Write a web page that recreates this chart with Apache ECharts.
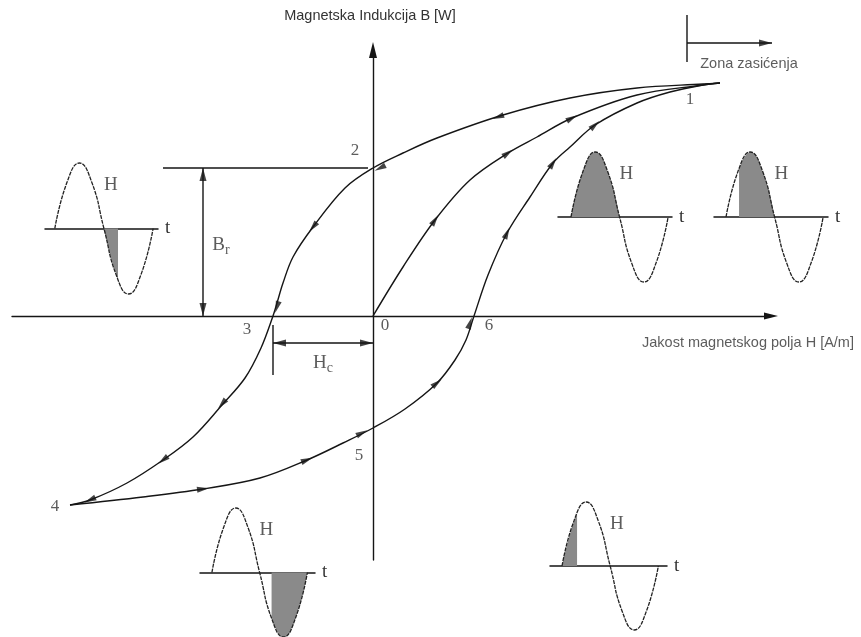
<!DOCTYPE html>
<html><head><meta charset="utf-8">
<script src="https://cdn.jsdelivr.net/npm/echarts@6/dist/echarts.min.js"></script>
<style>html,body{margin:0;padding:0;background:#fff}#c{width:861px;height:637px}</style>
</head><body><div id="c"></div>
<script>
// ---------------- data (H, B in arbitrary units, origin at 0,0) ----------------
const initialCurve = [[0,0],[30,49],[62,96],[97,136],[135,163],[164,179],[199,198],[264,221],[330,231],[347,233]];
const upperBranch = [[347,233],[330,232],[264,228],[197,218],[130,201],[64,178],[30,163],[0,148],[-28,128],[-60,89],[-80,59],[-90,33],[-96,13],[-100,0],[-112,-32],[-128,-62],[-151,-89],[-180,-121],[-210,-144],[-246,-167],[-283,-184],[-303,-189]];
const lowerBranch = [[-303,-189],[-230,-181],[-170,-173],[-113,-162],[-66,-144],[-30,-127],[0,-112],[32,-93],[64,-67],[82,-44],[93,-24],[101,0],[115,41],[134,83],[157,119],[180,153],[197,169],[222,191],[264,213],[297,224],[330,231],[347,233]];

const initialArrows = [[62,96],[135,163],[199,198]];
const upperArrows = [[125,199],[7,148],[-60,89],[-96,9],[-151,-88],[-210,-144],[-283,-184]];
const lowerArrows = [[-170,-173],[-66,-144],[-11,-117],[64,-67],[97,-7],[134,83],[180,153],[222,191]];

const keyPoints = [['1',347,233],['2',0,148],['3',-100,0],['4',-303,-189],['5',0,-112],['6',101,0],['0',0,0]];

const remanence = 148;          // B_r
const coercivity = -100;        // -H_c
const brLineH = [-210, -5];     // extent of B_r reference line
const brArrowH = -170;
const hcTickB = [-9, -59];
const hcArrowB = -27;
const zoneStartH = 314;
const zoneMarkerB = [254, 301];
const zoneArrow = [[314,273],[399,273]];

// sine insets (t as fraction of period, H normalised)
const sineWave = [[0,0],[0.125,0.71],[0.25,1],[0.375,0.71],[0.5,0],[0.625,-0.71],[0.75,-1],[0.875,-0.71],[1,0]];
const shadeA = [[0.5,0],[0.57,-0.43],[0.643,-0.78]];
const shadeB = [[0,0],[0.125,0.71],[0.25,1],[0.375,0.71],[0.5,0]];
const shadeC = [[0.134,0.74],[0.25,1],[0.375,0.71],[0.5,0]];
const shadeD = [[0.625,-0.71],[0.75,-1],[0.875,-0.71],[1,0]];
const shadeE = [[0,0],[0.08,0.48],[0.156,0.83]];

const axisNameB = 'Magnetska Indukcija B [W]';
const axisNameH = 'Jakost magnetskog polja H [A/m]';
const zoneText = 'Zona zasićenja';

// ---------------- layout / style ----------------
const INK = '#151515';
const SERIF = '"Liberation Serif", "DejaVu Serif", serif';
const SANS = '"Liberation Sans", Arial, sans-serif';
const SANS_SIZE = 14.5;
const labelOffsets = {'1':[-30,17],'2':[-18,-17],'3':[-26,14],'0':[12,10],'6':[15,10],'5':[-14,28],'4':[-15,2]};

const insets = [
  {left:45,  top:163, width:113, height:131, min:-0.10,  max:1.05, shade:shadeA},
  {left:558, top:152, width:114, height:130, min:-0.134, max:1.04, shade:shadeB},
  {left:714, top:152, width:114, height:130, min:-0.124, max:1.05, shade:shadeC},
  {left:200, top:508, width:115, height:130, min:-0.125, max:1.08, shade:shadeD},
  {left:550, top:502, width:117, height:128, min:-0.125, max:1.09, shade:shadeE}
];

const X_MAX = 398;
const grids = [{left:12, top:50, right:90, bottom:77}];
const xAxes = [{
  type:'value', min:-361, max:X_MAX, gridIndex:0,
  axisLine:{show:true, onZero:true, symbol:['none','triangle'], symbolSize:[7,14], lineStyle:{color:INK, width:1.4}},
  axisTick:{show:false}, axisLabel:{show:false}, splitLine:{show:false}
}];
const yAxes = [{
  type:'value', min:-244, max:266, gridIndex:0,
  axisLine:{show:true, onZero:true, symbol:['none','triangle'], symbolSize:[8,16], lineStyle:{color:INK, width:1.4}},
  axisTick:{show:false}, axisLabel:{show:false}, splitLine:{show:false},
  name: axisNameB, nameLocation:'end', nameGap:27,
  nameTextStyle:{fontFamily:SANS, fontSize:SANS_SIZE, color:'#333', padding:[0,6,0,0]}
}];

insets.forEach((g, i) => {
  grids.push({left:g.left, top:g.top, width:g.width, height:g.height});
  xAxes.push({type:'value', gridIndex:i+1, min:g.min, max:g.max,
    axisLine:{show:true, onZero:true, lineStyle:{color:INK, width:1.5}},
    axisTick:{show:false}, axisLabel:{show:false}, splitLine:{show:false},
    name:'t', nameLocation:'end', nameGap:7,
    nameTextStyle:{fontFamily:SERIF, fontSize:19, color:'#333', verticalAlign:'middle'}});
  yAxes.push({type:'value', gridIndex:i+1, min:-1, max:1, show:false});
});

const curveStyle = {color:INK, width:1.4};
const series = [];
function addLine(data, extra) {
  series.push(Object.assign({type:'line', data, xAxisIndex:0, yAxisIndex:0, symbol:'none',
    clip:false, silent:true, lineStyle:{color:INK, width:1.4}, z:3}, extra || {}));
}
addLine(initialCurve, {smooth:0.35, lineStyle:curveStyle});
addLine(upperBranch, {smooth:0.35, lineStyle:curveStyle});
addLine(lowerBranch, {smooth:0.35, lineStyle:curveStyle});
addLine([[brLineH[0], remanence],[brLineH[1], remanence]]);
addLine([[brArrowH, 0],[brArrowH, remanence]]);
addLine([[coercivity, hcTickB[0]],[coercivity, hcTickB[1]]]);
addLine([[coercivity, hcArrowB],[0, hcArrowB]]);
addLine([[zoneStartH, zoneMarkerB[0]],[zoneStartH, zoneMarkerB[1]]]);
addLine(zoneArrow);

// labels
const labelData = keyPoints.map(k => ({value:[k[1], k[2]], name:k[0],
  label:{offset:labelOffsets[k[0]]}}));
labelData.push({value:[brArrowH, remanence/2], name:'Br', label:{offset:[18,3], formatter:'{a|B}{b|r}'}});
labelData.push({value:[coercivity/2, hcArrowB], name:'Hc', label:{offset:[0,20], formatter:'{a|H}{b|c}'}});
labelData.push({value:[zoneStartH, zoneMarkerB[0]], name:zoneText,
  label:{offset:[62,2], fontFamily:SANS, fontSize:SANS_SIZE, color:'#333'}});
labelData.push({value:[X_MAX, 0], name:axisNameH,
  label:{offset:[-23,27], fontFamily:SANS, fontSize:SANS_SIZE, color:'#333'}});
series.push({type:'scatter', xAxisIndex:0, yAxisIndex:0, data:labelData, symbolSize:0, clip:false, silent:true, z:5,
  label:{show:true, position:'inside', formatter:'{b}', fontFamily:SERIF, fontSize:17, color:'#333',
    rich:{a:{fontFamily:SERIF, fontSize:19, color:'#333'}, b:{fontFamily:SERIF, fontSize:14, color:'#333', padding:[10,0,0,0]}}}});

insets.forEach((g, i) => {
  series.push({type:'line', xAxisIndex:i+1, yAxisIndex:i+1, data:g.shade, smooth:true, symbol:'none',
    lineStyle:{width:0}, areaStyle:{color:'#8a8a8a', opacity:1}, silent:true, z:2});
  series.push({type:'line', xAxisIndex:i+1, yAxisIndex:i+1, data:sineWave, smooth:true, symbol:'none',
    lineStyle:{color:'#222', width:1.3, type:[4,1]}, silent:true, z:3, clip:false});
  series.push({type:'scatter', xAxisIndex:i+1, yAxisIndex:i+1, data:[{value:[0.57,0.66], name:'H'}], symbolSize:0,
    silent:true, clip:false, label:{show:true, position:'inside', formatter:'{b}', fontFamily:SERIF, fontSize:19, color:'#333'}});
});

const chart = echarts.init(document.getElementById('c'), null, {renderer:'canvas'});
const option = {animation:false, backgroundColor:'#fff', grid:grids, xAxis:xAxes, yAxis:yAxes, series};
chart.setOption(option);

// ---- arrowheads: direction taken from the curves through the axes' scales ----
const toPx = p => chart.convertToPixel({gridIndex:0}, p);
const fromPx = p => chart.convertFromPixel({gridIndex:0}, p);
const rot = (dx, dy) => Math.atan2(-dy, dx) * 180 / Math.PI - 90;
function curveArrows(curve, arrows) {
  const px = curve.map(toPx);
  return arrows.map(a => {
    const q = toPx(a);
    let best = null, bd = Infinity;
    for (let i = 0; i < px.length - 1; i++) {
      const [x1,y1] = px[i], [x2,y2] = px[i+1];
      const dx = x2-x1, dy = y2-y1, L2 = dx*dx+dy*dy || 1;
      let t = ((q[0]-x1)*dx + (q[1]-y1)*dy) / L2; t = Math.max(0, Math.min(1, t));
      const cx = x1+t*dx, cy = y1+t*dy, d = (q[0]-cx)**2 + (q[1]-cy)**2;
      if (d < bd) { bd = d; best = {dx, dy}; }
    }
    return {value:a, symbolRotate:rot(best.dx, best.dy)};
  });
}
function endArrow(tip, from, len) {
  const T = toPx(tip), F = toPx(from);
  const dx = T[0]-F[0], dy = T[1]-F[1], L = Math.hypot(dx, dy);
  const c = [T[0] - dx/L*len/2, T[1] - dy/L*len/2];
  return {value:fromPx(c), symbolRotate:rot(dx, dy)};
}
const arrowItems = [].concat(
  curveArrows(initialCurve, initialArrows),
  curveArrows(upperBranch, upperArrows),
  curveArrows(lowerBranch, lowerArrows)
);
const annotArrows = [
  endArrow([brArrowH, remanence], [brArrowH, 0], 13),
  endArrow([brArrowH, 0], [brArrowH, remanence], 13),
  endArrow([coercivity, hcArrowB], [0, hcArrowB], 13),
  endArrow([0, hcArrowB], [coercivity, hcArrowB], 13),
  endArrow(zoneArrow[1], zoneArrow[0], 13)
];
series.push({type:'scatter', xAxisIndex:0, yAxisIndex:0, data:arrowItems, symbol:'triangle', symbolSize:[6,12],
  itemStyle:{color:INK}, clip:false, silent:true, z:6});
series.push({type:'scatter', xAxisIndex:0, yAxisIndex:0, data:annotArrows, symbol:'triangle', symbolSize:[7,13],
  itemStyle:{color:INK}, clip:false, silent:true, z:6});
chart.setOption({series});
</script>
</body></html>
